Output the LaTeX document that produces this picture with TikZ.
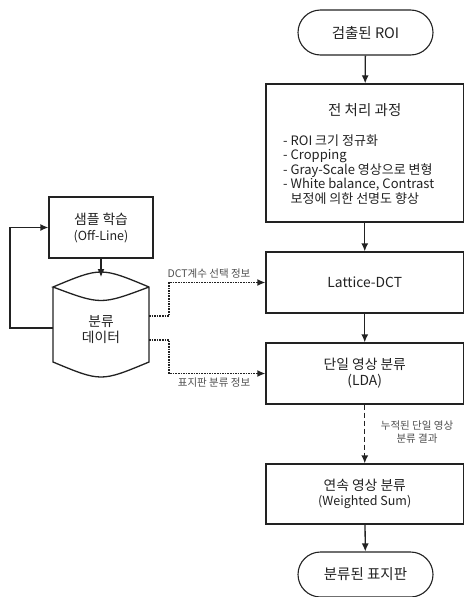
\documentclass[tikz,border=0pt]{standalone}
\usepackage{fontspec}
\setmainfont{Noto Sans CJK KR}
\usetikzlibrary{arrows.meta,shapes.misc}
\definecolor{ink}{HTML}{222222}
\definecolor{lab}{HTML}{505050}
\tikzset{
  box/.style={draw=ink,line width=1.3pt,rectangle,inner sep=0pt,text=ink,align=center},
  term/.style={draw=ink,line width=1.1pt,rounded rectangle,inner sep=0pt,text=ink,minimum width=135pt,minimum height=45pt,font=\fontsize{14.5}{16}\selectfont},
  arr/.style={draw=ink,line width=1.3pt,-{Latex[length=8pt,width=7pt]}},
  dotarr/.style={draw=ink,line width=1.4pt,dash pattern=on 1.6pt off 1pt,-{Latex[length=8pt,width=7pt]}},
  dasharr/.style={draw=ink,line width=1.3pt,dash pattern=on 5pt off 3pt,-{Latex[length=8pt,width=7pt]}},
  lbl/.style={text=lab,font=\fontsize{10.5}{13}\selectfont,inner sep=0pt,align=center},
  main/.style={font=\fontsize{13.8}{16}\selectfont}
}
\begin{document}
\begin{tikzpicture}[x=1pt,y=-1pt]
\path[use as bounding box,fill=white] (0,0) rectangle (464,597);
% right column
\node[term] (roi) at (365.5,32.5) {검출된 ROI};
\node[box,minimum width=197.5pt,minimum height=138pt] (pre) at (364.75,153) {};
\node[text=ink,font=\fontsize{14.5}{18}\selectfont,inner sep=0pt] (pretitle) at (364.75,110) {전 처리 과정};
\node[text=ink,font=\fontsize{13}{14.5}\selectfont,inner sep=0pt,align=left,anchor=west] (prelist) at (283,169.5)
  {- ROI 크기 정규화\\- Cropping\\- Gray-Scale 영상으로 변형\\- White balance, Contrast\\\phantom{- }보정에 의한 선명도 향상};
\node[box,main,minimum width=197.5pt,minimum height=61pt] (lat) at (364.75,282.5) {Lattice-DCT};
\node[box,main,minimum width=197.5pt,minimum height=61pt] (lda) at (364.75,373.5) {단일 영상 분류\\[0pt](LDA)};
\node[box,main,minimum width=197.5pt,minimum height=60pt] (ws) at (364.75,494) {연속 영상 분류\\[-1pt]{\fontsize{12.5}{14}\selectfont (Weighted Sum)}};
\node[term] (out) at (365.5,574.5) {분류된 표지판};
% left column
\node[box,main,minimum width=104pt,minimum height=61pt] (samp) at (101,227.5) {샘플 학습\\[0pt]{\fontsize{12.5}{14}\selectfont (Off-Line)}};
\node[inner sep=0pt,minimum width=96pt,minimum height=95pt] (db) at (101,324.5) {};
\draw[ink,line width=1.3pt] (53,287) -- (53,362) .. controls (101,382) .. (149,362) -- (149,287)
  .. controls (101,267) .. (53,287) .. controls (101,305) .. (149,287);
\node[text=ink,main,align=center,inner sep=0pt] (dbtext) at (101,330) {분류\\데이터};
\coordinate (dbtop) at (101,277);
\coordinate (dbleft) at (53,328);
\coordinate (c1) at (149,316);
\coordinate (c2) at (149,340);
% connectors
\draw[arr] (roi) -- (pre);
\draw[arr] (pre) -- (lat);
\draw[arr] (lat) -- (lda);
\draw[dasharr] (lda) -- (ws);
\draw[arr] (ws) -- (out);
\draw[arr] (samp.south) -- (dbtop);
\draw[arr] (dbleft) -- ++(-43,0) |- (samp.west);
\draw[dotarr] (c1) -- ++(20,0) |- (lat.west);
\draw[dotarr] (c2) -- ++(20,0) |- (lda.west);
% labels
\node[lbl] (l1) at (209,274) {DCT계수 선택 정보};
\node[lbl] (l2) at (214,383) {표지판 분류 정보};
\node[lbl] (l3) at (417,432) {누적된 단일 영상\\분류 결과};
\end{tikzpicture}
\end{document}
